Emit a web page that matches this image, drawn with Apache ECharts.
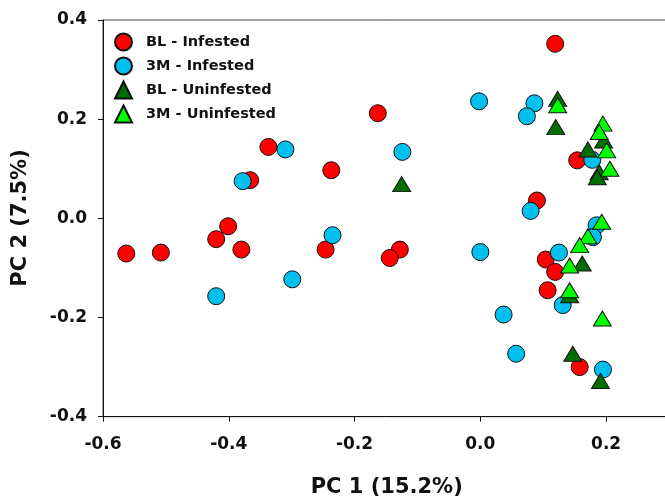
<!DOCTYPE html>
<html><head><meta charset="utf-8">
<script src="https://cdn.jsdelivr.net/npm/echarts@6/dist/echarts.min.js"></script>
<style>html,body{margin:0;padding:0;background:#fff}#c{width:665px;height:500px}</style>
</head><body><div id="c"></div>
<script>
const seriesNames = ['BL - Infested', '3M - Infested', 'BL - Uninfested', '3M - Uninfested'];
const blInfested = [
  [-0.563,-0.071],[-0.508,-0.069],[-0.420,-0.042],[-0.401,-0.016],[-0.380,-0.063],
  [-0.337,0.144],[-0.366,0.077],[-0.237,0.097],[-0.163,0.212],[0.119,0.352],
  [0.154,0.117],[0.090,0.036],[-0.246,-0.063],[-0.128,-0.063],[-0.144,-0.080],
  [0.104,-0.083],[0.119,-0.108],[0.107,-0.145],[0.158,-0.300]
];
const m3Infested = [
  [-0.378,0.075],[-0.310,0.139],[-0.420,-0.157],[-0.299,-0.123],[-0.235,-0.034],
  [-0.124,0.134],[-0.002,0.236],[0.086,0.232],[0.074,0.206],[0.178,0.118],
  [0.080,0.015],[0.000,-0.068],[0.125,-0.069],[0.185,-0.014],[0.179,-0.038],
  [0.131,-0.175],[0.037,-0.194],[0.057,-0.273],[0.195,-0.305]
];
const blUninfested = [
  [-0.125,0.069],[0.123,0.241],[0.120,0.184],[0.171,0.139],[0.196,0.157],
  [0.189,0.093],[0.186,0.083],[0.162,-0.091],[0.142,-0.155],[0.147,-0.273],[0.191,-0.328]
];
const m3Uninfested = [
  [0.123,0.228],[0.195,0.191],[0.189,0.174],[0.201,0.137],[0.206,0.100],
  [0.193,-0.007],[0.171,-0.036],[0.158,-0.054],[0.142,-0.095],[0.142,-0.145],[0.194,-0.202]
];
const xTitle = 'PC 1 (15.2%)';
const yTitle = 'PC 2 (7.5%)';
const xMin = -0.6, xMax = 0.3, xStep = 0.2;
const yMin = -0.4, yMax = 0.4, yStep = 0.2;

const FONT = 'DejaVu Sans';
const colors = ['#FF0000', '#00C0F0', '#006E00', '#00FF00'];
const symbols = ['circle', 'circle', 'triangle', 'triangle'];
const datas = [blInfested, m3Infested, blUninfested, m3Uninfested];

const chart = echarts.init(document.getElementById('c'), null, {renderer: 'canvas'});
chart.setOption({
  animation: false,
  backgroundColor: '#fff',
  grid: {left: 103, top: 20, right: -4, bottom: 83.3, outerBoundsMode: 'none', containLabel: false,
    show: true, borderColor: '#444', borderWidth: 1, backgroundColor: 'transparent'},
  legend: {
    orient: 'vertical', left: 109, top: 27.5, itemWidth: 17, itemHeight: 17, itemGap: 5,
    data: seriesNames,
    textStyle: {fontFamily: FONT, fontWeight: 'bold', fontSize: 14.5, color: '#111', padding: [0,0,0,9]}
  },
  xAxis: {
    type: 'value', min: xMin, max: xMax, interval: xStep,
    axisLine: {show: true, onZero: false, lineStyle: {color: '#111', width: 1}},
    axisTick: {show: true, inside: false, length: 5, lineStyle: {color: '#111'}},
    splitLine: {show: false},
    axisLabel: {showMaxLabel: false, margin: 19, fontFamily: FONT, fontWeight: 'bold', fontSize: 17, color: '#111',
      formatter: v => v.toFixed(1)}
  },
  yAxis: {
    type: 'value', min: yMin, max: yMax, interval: yStep,
    axisLine: {show: true, onZero: false, lineStyle: {color: '#111', width: 1}},
    axisTick: {show: true, inside: false, length: 5, lineStyle: {color: '#111'}},
    splitLine: {show: false},
    axisLabel: {margin: 16, fontFamily: FONT, fontWeight: 'bold', fontSize: 17, color: '#111',
      formatter: v => v.toFixed(1)}
  },
  graphic: [
    {type: 'text', x: 386.7, y: 488, style: {text: xTitle, x: 0, y: 0, fontFamily: FONT, fontWeight: 'bold', fontSize: 21, fill: '#111', textAlign: 'center', textVerticalAlign: 'middle'}},
    {type: 'text', x: 21, y: 218, rotation: Math.PI/2, style: {text: yTitle, x: 0, y: 0, fontFamily: FONT, fontWeight: 'bold', fontSize: 21, fill: '#111', textAlign: 'center', textVerticalAlign: 'middle'}}
  ],
  series: datas.map((d, i) => ({
    name: seriesNames[i], type: 'scatter', data: d,
    symbol: symbols[i],
    symbolSize: symbols[i] === 'circle' ? 17 : [18, 15],
    itemStyle: {color: colors[i], borderColor: '#111', borderWidth: 1, opacity: 1}
  }))
});
</script></body></html>
